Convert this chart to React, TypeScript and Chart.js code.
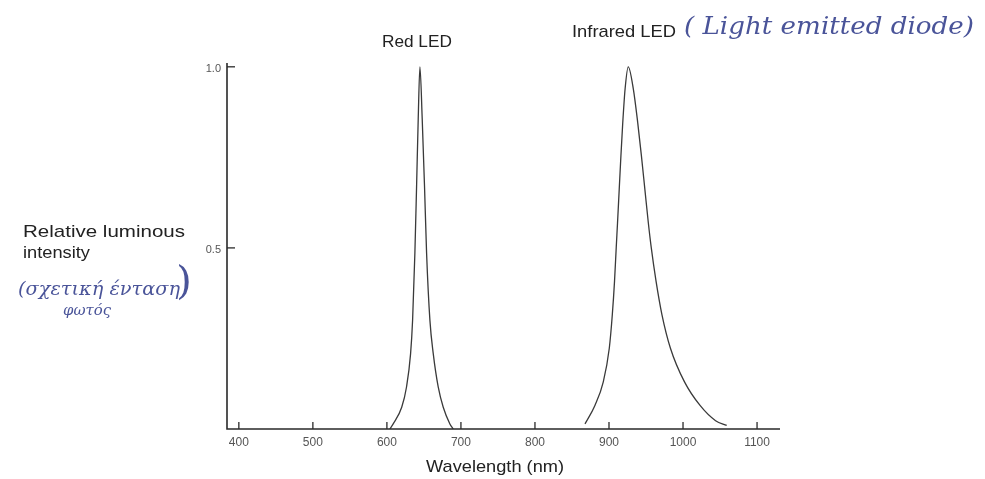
import React, { useEffect, useRef } from "react";
import { Chart, registerables } from "chart.js";

Chart.register(...registerables);

// ---- data ----
const redWavelength = [604, 608.5, 620, 626.5, 632, 634.7, 637.8, 640.1, 642.3, 644.6, 647.7, 650.8, 653.6, 658.1, 662.6, 669.3, 676.1, 685.1, 689.6];
const redIntensity = [0.0, 0.014, 0.06, 0.116, 0.208, 0.3, 0.486, 0.671, 0.856, 1.0, 0.856, 0.671, 0.486, 0.3, 0.208, 0.116, 0.06, 0.014, 0.0];

const irWavelength = [867.6, 881, 892.3, 900.4, 904.5, 907.5, 909.8, 911.5, 913.8, 916.1, 918.6, 921.8, 926, 932.8, 938.8, 943.8, 948.5, 953.2, 957, 963.5, 971.5, 983, 1002, 1023, 1044, 1059];
const irIntensity = [0.014, 0.065, 0.13, 0.223, 0.316, 0.409, 0.502, 0.568, 0.661, 0.754, 0.846, 0.94, 1.0, 0.94, 0.846, 0.754, 0.661, 0.568, 0.502, 0.409, 0.316, 0.223, 0.13, 0.065, 0.023, 0.01];

const xTickValues = [400, 500, 600, 700, 800, 900, 1000, 1100];
const yTickValues = [0.5, 1.0];
const yTickLabels = ["0.5", "1.0"];

const seriesLabels = ["Red LED", "Infrared LED"];
const handNote = "( Light emitted diode)";
const yTitleLines = ["Relative luminous", "intensity"];
const greekLines = ["(σχετική ένταση", "φωτός"];
const xTitle = "Wavelength (nm)";

const SANS = "'Liberation Sans', Arial, Helvetica, sans-serif";
const HAND = "'DejaVu Serif', serif";
const INK = "#222222";
const BLUE = "#4a5499";

function drawText(
  ctx: CanvasRenderingContext2D,
  text: string,
  x: number,
  y: number,
  font: string,
  color: string,
  align: CanvasTextAlign,
  width?: number
) {
  ctx.save();
  ctx.font = font;
  ctx.fillStyle = color;
  ctx.textBaseline = "middle";
  ctx.textAlign = align;
  const w = ctx.measureText(text).width;
  const s = width ? width / w : 1;
  ctx.translate(x, y);
  ctx.scale(s, 1);
  ctx.fillText(text, 0, 0);
  ctx.restore();
}

const overlayPlugin = {
  id: "overlay",
  afterDraw(chart: any) {
    const { ctx, chartArea: a, scales } = chart;
    const xs = scales.x;
    const ys = scales.y;
    ctx.save();
    // axis lines
    ctx.strokeStyle = "#2a2a2a";
    ctx.lineWidth = 1.6;
    ctx.beginPath();
    ctx.moveTo(a.left, a.top - 2);
    ctx.lineTo(a.left, a.bottom);
    ctx.lineTo(a.right, a.bottom);
    ctx.stroke();

    // y ticks (inward) + labels
    ctx.lineWidth = 1.3;
    yTickValues.forEach((v, i) => {
      const py = ys.getPixelForValue(v);
      ctx.beginPath();
      ctx.moveTo(a.left, py);
      ctx.lineTo(a.left + 8, py);
      ctx.stroke();
      drawText(ctx, yTickLabels[i], a.left - 6, py + 2, `11px ${SANS}`, "#555", "right");
    });

    // x ticks (inward) + labels
    xTickValues.forEach((v) => {
      const px = xs.getPixelForValue(v);
      ctx.beginPath();
      ctx.moveTo(px, a.bottom);
      ctx.lineTo(px, a.bottom - 7);
      ctx.stroke();
      drawText(ctx, String(v), px, a.bottom + 14, `12px ${SANS}`, "#555", "center");
    });
    ctx.restore();

    // series labels above peaks
    const redPeak = redWavelength[redIntensity.indexOf(Math.max(...redIntensity))];
    drawText(ctx, seriesLabels[0], xs.getPixelForValue(redPeak) - 3, 42, `17px ${SANS}`, INK, "center", 70);
    drawText(ctx, seriesLabels[1], 572, 32, `17px ${SANS}`, INK, "left", 104);
    drawText(ctx, handNote, 684, 28, `italic 24px ${HAND}`, BLUE, "left", 290);

    // y title
    drawText(ctx, yTitleLines[0], 23, 232, `17px ${SANS}`, INK, "left", 162);
    drawText(ctx, yTitleLines[1], 23, 253, `17px ${SANS}`, INK, "left", 67);
    drawText(ctx, greekLines[0], 18, 290, `italic 18px ${HAND}`, BLUE, "left", 162);
    drawText(ctx, ")", 184, 284, `300 40px ${HAND}`, BLUE, "center");
    drawText(ctx, greekLines[1], 63, 311, `italic 15px ${HAND}`, BLUE, "left", 48);

    // x title
    drawText(ctx, xTitle, 495, 467, `17px ${SANS}`, INK, "center", 138);
  },
};

export default function App() {
  const canvasRef = useRef<HTMLCanvasElement | null>(null);

  useEffect(() => {
    if (!canvasRef.current) return;
    const chart = new Chart(canvasRef.current, {
      type: "line",
      data: {
        datasets: [
          {
            label: seriesLabels[0],
            data: redWavelength.map((w, i) => ({ x: w, y: redIntensity[i] })),
            borderColor: "#3a3a3a",
            borderWidth: 1.3,
            pointRadius: 0,
            cubicInterpolationMode: "monotone",
            fill: false,
          },
          {
            label: seriesLabels[1],
            data: irWavelength.map((w, i) => ({ x: w, y: irIntensity[i] })),
            borderColor: "#3a3a3a",
            borderWidth: 1.3,
            pointRadius: 0,
            cubicInterpolationMode: "monotone",
            fill: false,
          },
        ],
      },
      options: {
        animation: false,
        responsive: true,
        maintainAspectRatio: false,
        layout: { padding: { left: 227, top: 65, right: 205, bottom: 50 } },
        scales: {
          x: { type: "linear", min: 384, max: 1131, display: false },
          y: { type: "linear", min: 0, max: 1.005, display: false },
        },
        plugins: {
          legend: { display: false },
          tooltip: { enabled: false },
        },
      },
      plugins: [overlayPlugin],
    });
    return () => chart.destroy();
  }, []);

  return (
    <div style={{ position: "fixed", left: 0, top: 0, width: 985, height: 479, background: "#ffffff" }}>
      <canvas ref={canvasRef} />
    </div>
  );
}
